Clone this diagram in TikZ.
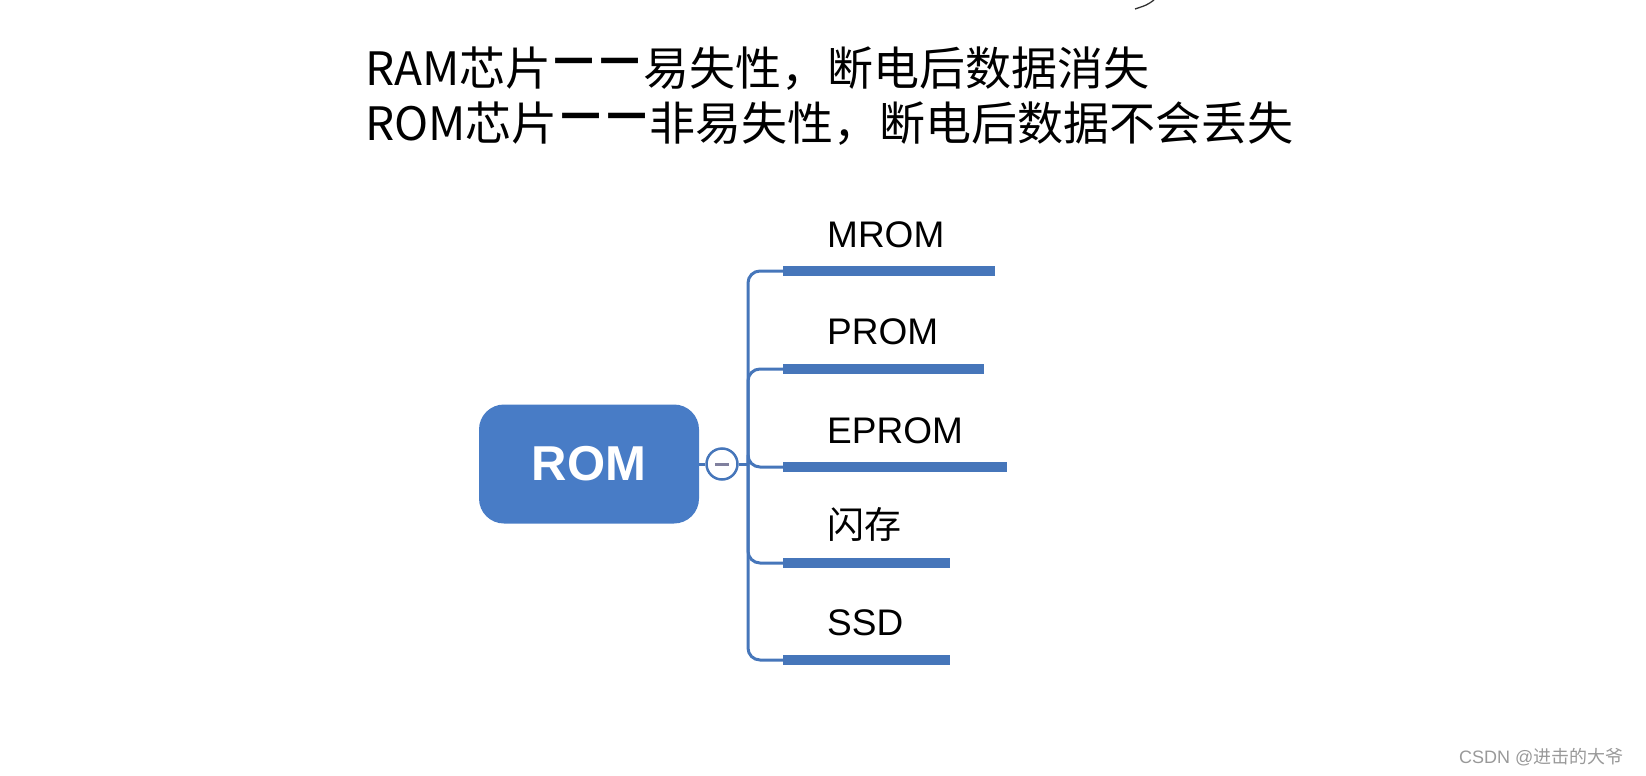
\documentclass[tikz,border=0pt]{standalone}
\usepackage{graphicx}
\usepackage{fontspec}
\setmainfont{Liberation Sans}
\newfontfamily\cjk{Noto Sans CJK SC}
\definecolor{romblue}{RGB}{72,124,198}
\definecolor{linkblue}{RGB}{70,118,186}
\definecolor{foldgray}{RGB}{128,128,158}
\newcommand\gapdash{\makebox[1em]{\scalebox{1}[1.9]{—}}}

\begin{document}
\begin{tikzpicture}[x=1pt,y=-1pt,
  topic/.style={fill=romblue,rounded corners=25pt,minimum width=220pt,minimum height=119pt,
    inner sep=0pt,text=white,font=\fontsize{49}{49}\selectfont\bfseries},
  fold/.style={circle,draw=linkblue,line width=2.5pt,fill=white,minimum size=31pt,inner sep=0pt},
  leaf/.style={anchor=base west,inner sep=0pt,font=\fontsize{37}{37}\selectfont},
  note/.style={anchor=base west,inner sep=0pt,font=\cjk\fontsize{46}{46}\selectfont},
  branch/.style={draw=linkblue,line width=3pt,rounded corners=12pt},
  bar/.style={draw=linkblue,line width=9.5pt}]
\useasboundingbox (0,0) rectangle (1646,776);

\node[note] at (365,85)  (ram) {RAM芯片\gapdash\gapdash 易失性，断电后数据消失};
\node[note] at (365,140) (rom-note) {ROM芯片\gapdash\gapdash 非易失性，断电后数据不会丢失};

\node[topic] at (589,464) (rom) {\raisebox{-3pt}{ROM}};
\node[fold]  at (722,464) (fold) {};
\draw[foldgray,line width=3pt] ([xshift=-7pt]fold.center) -- ([xshift=7pt]fold.center);

\coordinate (hub) at (748,464);

\coordinate (s1) at (783,271); \coordinate (e1) at (995,271);
\coordinate (s2) at (783,369); \coordinate (e2) at (984,369);
\coordinate (s3) at (783,467); \coordinate (e3) at (1007,467);
\coordinate (s4) at (783,563); \coordinate (e4) at (950,563);
\coordinate (s5) at (783,660); \coordinate (e5) at (950,660);

\node[leaf] at (827,247) (mrom)  {MROM};
\node[leaf] at (827,344) (prom)  {PROM};
\node[leaf] at (827,443) (eprom) {EPROM};
\node[leaf] at (827,538) (flash) {\cjk 闪存};
\node[leaf] at (827,635) (ssd)   {SSD};

\draw[branch] (rom.east) -- (fold.west);
\draw[branch] (fold.east) -- (hub);
\draw[branch] (hub) |- (s1);
\draw[branch] (hub) |- (s2);
\draw[branch] (hub) |- (s3);
\draw[branch] (hub) |- (s4);
\draw[branch] (hub) |- (s5);

\draw[bar] (s1) -- (e1);
\draw[bar] (s2) -- (e2);
\draw[bar] (s3) -- (e3);
\draw[bar] (s4) -- (e4);
\draw[bar] (s5) -- (e5);

% cut-off stroke at the top edge
\draw[line width=1.3pt,black!80] (1154,0) .. controls (1147,5) .. (1135,9);

\node[anchor=west,inner sep=0pt,text=black!40,font=\fontsize{18}{18}\selectfont] at (1459,757) (mark) {CSDN @{\cjk 进击的大爷}};
\end{tikzpicture}
\end{document}
